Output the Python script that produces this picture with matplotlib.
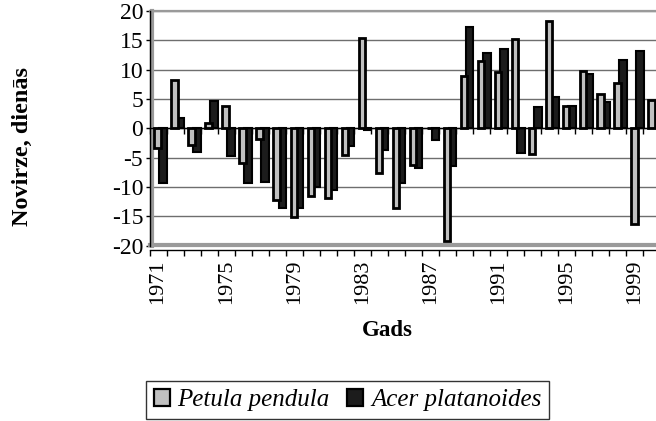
import matplotlib
matplotlib.use('Agg')
import matplotlib.pyplot as plt
import numpy as np
from matplotlib.lines import Line2D
from matplotlib.patches import Patch
import matplotlib.transforms as mtransforms

years = list(range(1971, 2001))
petula = [-3.4, 8.2, -2.8, 0.85, 3.8, -6.0, -1.9, -12.2, -15.1, -11.5,
          -11.9, -4.5, 15.3, -7.7, -13.6, -6.25, 0.0, -19.3, 8.9, 11.4,
          9.5, 15.2, -4.4, 18.2, 3.8, 9.8, 5.85, 7.7, -16.3, 4.8]
acer = [-9.3, 1.7, -4.0, 4.7, -4.7, -9.4, -9.1, -13.6, -13.6, -10.1,
        -10.5, -3.1, -0.3, -3.8, -9.4, -6.8, -2.0, -6.5, 17.3, 12.9,
        13.5, -4.3, 3.6, 5.4, 3.8, 9.3, 4.4, 11.6, 13.1, 4.0]
yticks = [-20, -15, -10, -5, 0, 5, 10, 15, 20]
label_years = [y for y in years if (y - 1971) % 4 == 0]
series_names = ['Petula pendula', 'Acer platanoides']

plt.rcParams['font.family'] = ['Liberation Serif', 'DejaVu Serif']

W, H = 656, 421
fig = plt.figure(figsize=(W / 100, H / 100), dpi=100)
left_px, top_px, bot_px = 149.5, 10.9, 245.5
cat_px = 17.03
ax = fig.add_axes([left_px / W, 1 - bot_px / H, cat_px * len(years) / W,
                   (bot_px - top_px) / H])

x = np.arange(len(years))
ax.bar(x + 0.3, acer, 0.45, color='#1c1c1c', edgecolor='black', lw=1.5, zorder=3)
ax.bar(x - 0.03, petula, 0.38, color='#c0c0c0', edgecolor='black', lw=2.0, zorder=4)

ax.set_xlim(-0.5, len(years) - 0.5)
ax.set_ylim(-20, 20)
ax.set_yticks(yticks)
ax.set_yticklabels([str(v) for v in yticks], fontsize=17)
ax.yaxis.grid(True, color='#6e6e6e', lw=1.0)
ax.set_axisbelow(True)
ax.tick_params(axis='y', direction='out', length=3, width=1, pad=1.5, colors='black')

for s in ['top', 'right']:
    ax.spines[s].set_visible(False)
ax.spines['left'].set_color('black')
ax.spines['left'].set_linewidth(1)
ax.spines['bottom'].set_position(('data', 0))
ax.spines['bottom'].set_color('black')
ax.spines['bottom'].set_linewidth(1)
ax.spines['bottom'].set_zorder(5)
ax.set_xticks(np.arange(-0.5, len(years)))
ax.set_xticklabels([])
ax.tick_params(axis='x', direction='out', length=4, width=1, colors='black')

# wall edges (gray bands)
tl = mtransforms.offset_copy(ax.transAxes, fig=fig, x=2.5, y=0, units='dots')
ax.add_line(Line2D([0, 0], [0, 1], transform=tl, color='#9a9a9a', lw=3.0,
                   clip_on=False, zorder=2))
tb = mtransforms.offset_copy(ax.transAxes, fig=fig, x=0, y=0.5, units='dots')
ax.add_line(Line2D([0, 1], [0, 0], transform=tb, color='#9a9a9a', lw=3.0,
                   clip_on=False, zorder=2))
ax.add_line(Line2D([0, 1], [1, 1], transform=ax.transAxes, color='#9a9a9a', lw=1.6,
                   clip_on=False, zorder=2))

# bottom category axis with labels
ax2 = ax.twiny()
ax2.set_xlim(ax.get_xlim())
ax2.xaxis.set_ticks_position('bottom')
ax2.spines['bottom'].set_position(('outward', 3))
for s in ['top', 'left', 'right']:
    ax2.spines[s].set_visible(False)
ax2.spines['bottom'].set_color('black')
ax2.spines['bottom'].set_linewidth(1)
ax2.set_xticks(np.arange(-0.5, len(years)))
ax2.set_xticklabels([])
ax2.tick_params(axis='x', which='major', direction='out', length=4, width=1)
ax2.set_xticks([years.index(y) for y in label_years], minor=True)
ax2.set_xticklabels([str(y) for y in label_years], minor=True, rotation=90,
                    fontsize=16, va='top')
ax2.tick_params(axis='x', which='minor', length=0, pad=7)

fig.text(22 / W, 1 - 147 / H, 'Novirze, dienās', rotation=90, ha='center',
         va='center', fontsize=17.5, fontweight='bold')
fig.text(387 / W, 1 - 331 / H, 'Gads', ha='center', va='center',
         fontsize=16.5, fontweight='bold')

handles = [Patch(facecolor='#c0c0c0', edgecolor='black', lw=1.6),
           Patch(facecolor='#1c1c1c', edgecolor='black', lw=1.6)]
leg = fig.legend(handles, series_names, loc='center',
                 bbox_to_anchor=(347.5 / W, 1 - 400 / H), ncol=2, frameon=True,
                 fancybox=False, edgecolor='black', handlelength=0.65,
                 handleheight=0.65, handletextpad=0.3, columnspacing=0.7,
                 borderpad=0.3, borderaxespad=0, prop={'style': 'italic', 'size': 18})
leg.get_frame().set_linewidth(1.0)

fig.savefig('out.png', dpi=100)
